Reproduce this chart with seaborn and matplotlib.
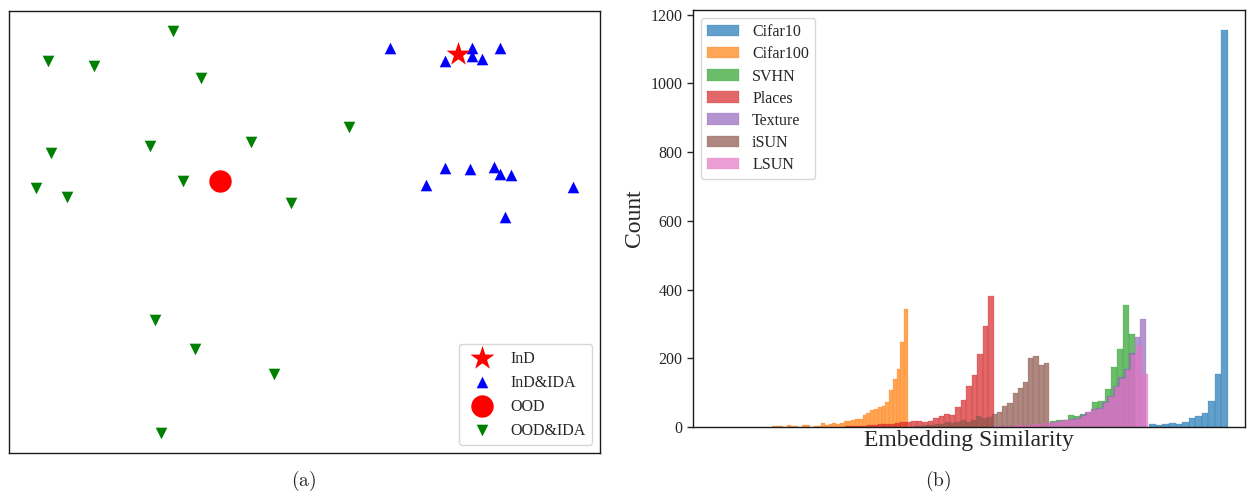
import numpy as np
import pandas as pd
import matplotlib
matplotlib.use("Agg")
import matplotlib.pyplot as plt
import seaborn as sns

# ---- left panel: 2-D embedding (t-SNE style units) ----
ind_x = [15.3]
ind_y = [17.7]
ind_ida_x = [8.5, 14.0, 16.7, 16.7, 17.7, 19.5, 14.0, 16.5, 18.9, 19.5, 20.6, 12.1, 26.8, 20.0]
ind_ida_y = [18.3, 17.0, 18.3, 17.5, 17.2, 18.3, 6.4, 6.3, 6.5, 5.8, 5.7, 4.7, 4.5, 1.5]
ood_x = [-8.6]
ood_y = [5.1]
ood_ida_x = [-13.3, -25.8, -21.2, -10.5, 4.4, -25.5, -15.6, -5.5,
             -12.3, -27.0, -23.9, -1.5, -15.1, -11.1, -3.2, -14.5]
ood_ida_y = [20.0, 17.0, 16.5, 15.3, 10.5, 7.9, 8.6, 9.0,
             5.1, 4.4, 3.5, 2.9, -8.8, -11.6, -14.1, -20.0]

# ---- right panel: similarity histograms (bin counts) ----
hist_names = ["Cifar10", "Cifar100", "SVHN", "Places", "Texture", "iSUN", "LSUN"]
hist_ranges = [(0.8613, 0.9754), (0.3145, 0.5116), (0.6461, 0.8406), (0.4210, 0.6362),
               (0.6333, 0.8565), (0.5200, 0.7159), (0.6362, 0.8594)]
cifar10 = [9, 5, 9, 12, 9, 15, 26, 32, 41, 76, 154, 1156]
cifar100 = [3, 3, 3, 0, 5, 3, 3, 0, 5, 5, 0, 3, 3, 12, 5, 9, 12, 9, 12, 17, 17, 20,
            23, 23, 35, 41, 50, 52, 58, 61, 73, 108, 140, 169, 248, 344]
svhn = [2, 3, 3, 3, 5, 6, 9, 12, 17, 20, 20, 35, 32, 38, 41, 73, 76, 111, 175, 227, 355, 271]
places = [3, 3, 3, 3, 5, 5, 9, 9, 9, 12, 15, 15, 17, 17, 15, 17, 26, 32, 38, 35,
          58, 79, 119, 151, 213, 294, 382]
texture = [1, 2, 2, 3, 3, 5, 6, 6, 9, 9, 12, 15, 17, 20, 22, 26, 35, 44, 52, 55,
           72, 90, 120, 145, 170, 215, 262, 315]
isun = [3, 3, 6, 6, 9, 9, 15, 12, 15, 20, 15, 20, 32, 26, 29, 38, 44, 61, 70, 99,
        114, 131, 201, 207, 181, 186]
lsun = [2, 2, 3, 3, 5, 6, 6, 9, 9, 12, 12, 15, 17, 20, 20, 23, 32, 44, 50, 52,
        70, 87, 117, 140, 166, 210, 236, 154]
hist_counts = [cifar10, cifar100, svhn, places, texture, isun, lsun]

sns.set_theme(style="ticks")
plt.rcParams["font.family"] = ["Liberation Serif", "DejaVu Serif"]
plt.rcParams["mathtext.fontset"] = "cm"
plt.rcParams["axes.linewidth"] = 1.0
plt.rcParams["axes.edgecolor"] = "0.1"

fig = plt.figure(figsize=(12.47, 4.92), dpi=100)

# left: scatter
ax1 = fig.add_axes([9 / 1247, 39 / 492, 591 / 1247, 442 / 492])
sns.scatterplot(x=ind_x, y=ind_y, marker="*", color="red", s=330, linewidth=0,
                label="InD", ax=ax1, zorder=4)
sns.scatterplot(x=ind_ida_x, y=ind_ida_y, marker="^", color="blue", s=70, linewidth=0,
                label="InD&IDA", ax=ax1, zorder=3)
sns.scatterplot(x=ood_x, y=ood_y, marker="o", color="red", s=260, linewidth=0,
                label="OOD", ax=ax1, zorder=3)
sns.scatterplot(x=ood_ida_x, y=ood_ida_y, marker="v", color="green", s=70, linewidth=0,
                label="OOD&IDA", ax=ax1, zorder=3)
ax1.set_xticks([])
ax1.set_yticks([])
ax1.legend(loc="lower right", fontsize=11.5)

# right: histograms
ax2 = fig.add_axes([693 / 1247, 65 / 492, 552 / 1247, 417 / 492])
colors = sns.color_palette("tab10")
for i, (name, (lo, hi), counts) in enumerate(zip(hist_names, hist_ranges, hist_counts)):
    edges = np.linspace(lo, hi, len(counts) + 1)
    df = pd.DataFrame({"sim": (edges[:-1] + edges[1:]) / 2, "n": counts})
    sns.histplot(data=df, x="sim", weights="n", bins=list(edges), color=colors[i],
                 alpha=0.7, edgecolor=colors[i], linewidth=0.15, label=name, ax=ax2)
ax2.set_xlim(0.2, 1.0)
ax2.set_xticks([])
ax2.set_xlabel("Embedding Similarity", fontsize=17, labelpad=2)
ax2.set_ylabel("Count", fontsize=17)
ax2.tick_params(axis="y", labelsize=11.5, length=4, width=1)
ax2.legend(loc="upper left", fontsize=11.5, labelspacing=0.38)

fig.text(304 / 1247, 1 - 481 / 492, r"$\mathrm{(a)}$", ha="center", va="center", fontsize=14)
fig.text(938 / 1247, 1 - 481 / 492, r"$\mathrm{(b)}$", ha="center", va="center", fontsize=14)

fig.savefig("out.png", dpi=100)
